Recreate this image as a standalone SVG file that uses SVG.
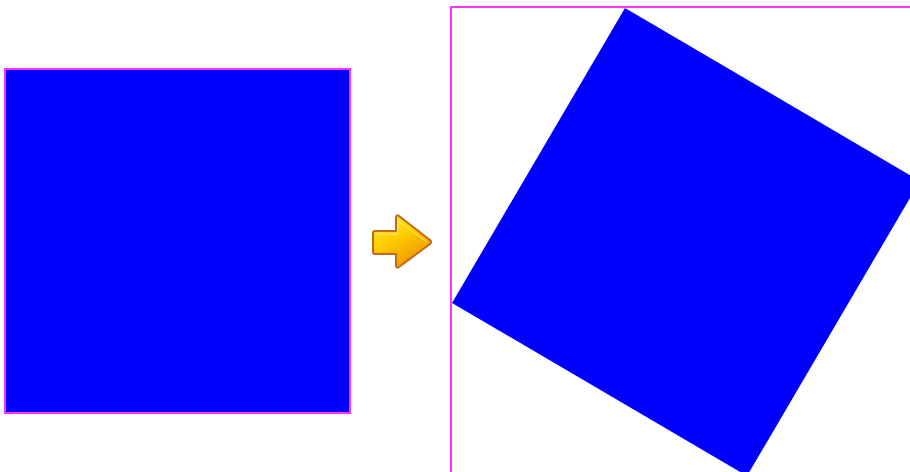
<svg xmlns="http://www.w3.org/2000/svg" width="910" height="472" viewBox="0 0 910 472">
  <defs>
    <style>
      .frame { fill: none; stroke: #ff33ff; stroke-width: 2; }
      .blue { fill: #0000ff; }
      .arrow { fill: url(#arrowGrad); stroke: #c06a1c; stroke-width: 2; stroke-linejoin: round; }
    </style>
    <linearGradient id="arrowGrad" x1="0" y1="0" x2="0.6" y2="1">
      <stop offset="0" stop-color="#ffee30"/>
      <stop offset="0.5" stop-color="#ffcc00"/>
      <stop offset="1" stop-color="#f09400"/>
    </linearGradient>
  </defs>
  <rect width="910" height="472" fill="#ffffff"/>
  <g id="source-square">
    <rect class="blue" x="5" y="69" width="345" height="344"/>
    <rect class="frame" x="5" y="69" width="345" height="344"/>
  </g>
  <g id="result-frame">
    <rect class="frame" x="451" y="7" width="474" height="474"/>
  </g>
  <g id="rotated-square">
    <polygon class="blue" points="625,8 920,181 747,476 452,303"/>
  </g>
  <g id="connectors">
    <path class="arrow" d="M375,231 L396,231 L396,218 Q396,214 399,216 L430,240 Q432,242 430,244 L399,267 Q396,269 396,265 L396,254 L375,254 Q373,254 373,252 L373,233 Q373,231 375,231 Z"/>
    <path d="M376,234 L398,234 L398,221 L427,242" fill="none" stroke="#fff6a0" stroke-width="1" opacity="0.7"/>
  </g>
</svg>
